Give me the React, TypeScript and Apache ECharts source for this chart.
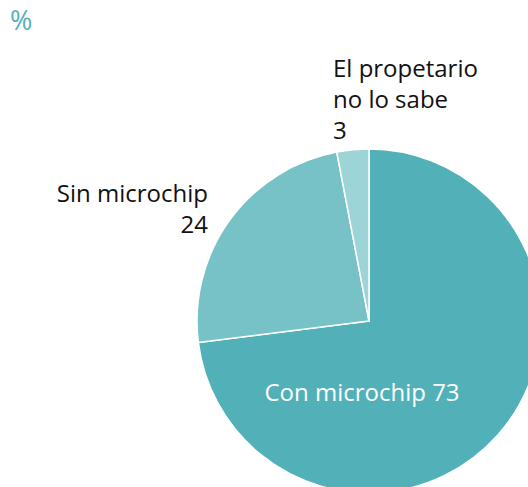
import React, { useEffect, useRef } from "react";
import * as echarts from "echarts";

const categories = ["Con microchip", "Sin microchip", "El propetario\nno lo sabe"];
const values = [73, 24, 3];
const colors = ["#52b1b8", "#76c2c6", "#9dd4d7"];

const labelPos: { x: number; y: number; align: "left" | "right" | "center" }[] = [
  { x: 362, y: 391, align: "center" },
  { x: 208, y: 208, align: "right" },
  { x: 333, y: 98, align: "left" },
];

export default function App() {
  const ref = useRef<HTMLDivElement>(null);
  useEffect(() => {
    const chart = echarts.init(ref.current!, null, { renderer: "svg" });
    chart.setOption({
      animation: false,
      textStyle: { fontFamily: "Open Sans" },
      graphic: [
        {
          type: "text",
          left: 10,
          top: 6,
          style: { text: "%", fill: "#52b1b8", fontSize: 27, fontFamily: "Open Sans" },
        },
      ],
      series: [
        {
          type: "pie",
          center: [369, 321],
          radius: 172,
          startAngle: 90,
          clockwise: true,
          avoidLabelOverlap: false,
          itemStyle: { borderColor: "#ffffff", borderWidth: 1.5 },
          labelLine: { show: false },
          data: categories.map((c, i) => ({
            name: c,
            value: values[i],
            itemStyle: { color: colors[i] },
            label: {
              show: true,
              position: i === 0 ? "inside" : "outside",
              formatter: i === 0 ? "{b} {c}" : "{b}\n{c}",
              color: i === 0 ? "#ffffff" : "#111111",
              fontSize: 24,
              lineHeight: 31,
              fontFamily: "Open Sans",
            },
          })),
          labelLayout: (params: any) => {
            const p = labelPos[params.dataIndex];
            return { x: p.x, y: p.y, align: p.align, verticalAlign: "middle" };
          },
        },
      ],
    });
    return () => chart.dispose();
  }, []);
  return <div ref={ref} style={{ width: 528, height: 487, position: "absolute", left: 0, top: 0 }} />;
}
